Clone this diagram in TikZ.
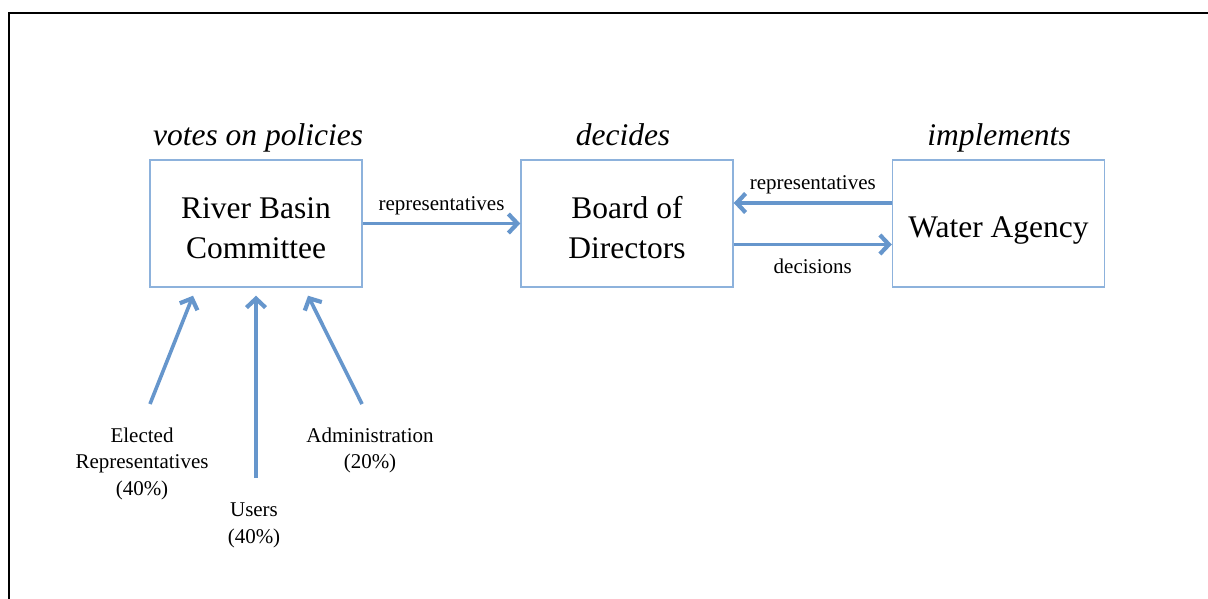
\documentclass[tikz,border=0pt]{standalone}
\usepackage{fontspec}
\setmainfont{Liberation Serif}
\usetikzlibrary{arrows.meta}

\definecolor{boxblue}{RGB}{141,178,220}
\definecolor{linkblue}{RGB}{102,150,204}

\tikzset{
  unit/.style={draw=boxblue, line width=1.4pt, minimum width=212pt, minimum height=127pt,
    inner sep=0pt, align=center, font=\fontsize{31.5}{40}\selectfont},
  role/.style={anchor=base, font=\itshape\fontsize{31.5}{38}\selectfont},
  flow/.style={draw=linkblue, line width=3.6pt,
    -{Straight Barb[length=9pt,width=19pt,line width=4.2pt]}},
  tag/.style={align=center, font=\fontsize{21}{26.5}\selectfont},
}

\begin{document}
\begin{tikzpicture}[x=1pt,y=-1pt]
        \useasboundingbox (0,0) rectangle (1208,599);
        % Frame
        \draw[line width=1.6pt] (9,599) -- (9,13) -- (1208,13);

        % Boxes
        \node[unit] (rbc) at (256,223.5) {\rule{0pt}{31pt}River Basin\\Committee};
        \node[unit] (board) at (627,223.5) {\rule{0pt}{31pt}Board of\\Directors};
        \node[unit] (agency) at (998.5,223.5) {\rule{0pt}{35pt}Water Agency};

        % Roles
        \node[role] (votes) at (258,145.5) {votes on policies};
        \node[role] (decides) at (623,145.5) {decides};
        \node[role] (implements) at (999,145.5) {implements};

        % Links between boxes
        \draw[flow] (rbc) -- (board) node[tag, midway, above=3pt] (repA) {representatives};
        \draw[flow] ([yshift=20.5pt]agency.west) -- ([yshift=20.5pt]board.east)
            node[tag, midway, above=4pt] (repB) {representatives};
        \draw[flow] ([yshift=-21pt]board.east) -- ([yshift=-21pt]agency.west)
            node[tag, midway, below=9pt] (decisions) {decisions};

        % Members
        \node[tag] (elected) at (142,463.5) {Elected\\Representatives\\(40\%)};
        \node[tag] (users) at (254,525.5) {Users\\(40\%)};
        \node[tag] (admin) at (370,450.5) {Administration\\(20\%)};

        \coordinate (eFoot) at (150,404);
        \coordinate (uFoot) at (256,478);
        \coordinate (aFoot) at (362,404);
        \draw[flow] (eFoot) -- ([xshift=-63pt,yshift=-8pt]rbc.south);
        \draw[flow] (uFoot) -- ([yshift=-8pt]rbc.south);
        \draw[flow] (aFoot) -- ([xshift=52pt,yshift=-8pt]rbc.south);
\end{tikzpicture}
\end{document}
